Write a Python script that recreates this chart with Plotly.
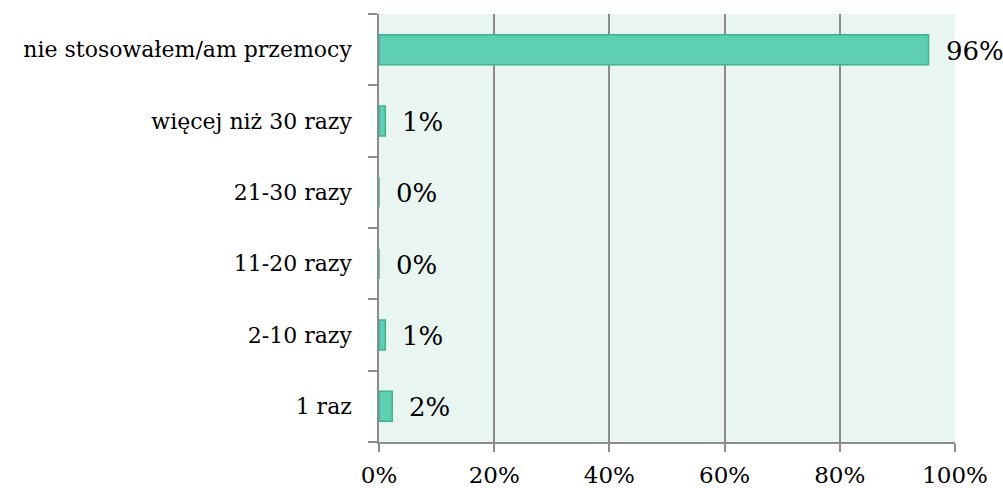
import plotly.graph_objects as go

categories = ["1 raz", "2-10 razy", "11-20 razy", "21-30 razy",
              "więcej niż 30 razy", "nie stosowałem/am przemocy"]
values = [2.3, 1.1, 0.0, 0.0, 1.1, 95.4]
value_labels = ["2%", "1%", "0%", "0%", "1%", "96%"]
x_ticks = [0, 20, 40, 60, 80, 100]
x_tick_labels = ["0%", "20%", "40%", "60%", "80%", "100%"]

FONT = "DejaVu Serif"
GRID = "#8c8c8c"

fig = go.Figure()
fig.add_trace(go.Bar(
    x=values, y=categories, orientation="h", width=0.42,
    marker=dict(color="#5ecfb1", line=dict(color="#3db38e", width=1.5)),
    hoverinfo="skip",
))

for v, c, t in zip(values, categories, value_labels):
    fig.add_annotation(x=v, y=c, text=t, showarrow=False, xanchor="left",
                       xshift=15, yshift=-1, font=dict(family=FONT, size=26, color="#000000"))

fig.update_layout(
    width=1003, height=488,
    margin=dict(l=379, r=48, t=14, b=46),
    paper_bgcolor="white", plot_bgcolor="#e8f5f0",
    showlegend=False,
    font=dict(family=FONT, size=22, color="#000000"),
)
fig.update_xaxes(
    range=[0, 100], tickvals=x_ticks, ticktext=x_tick_labels,
    showgrid=True, gridcolor=GRID, gridwidth=1.5,
    showline=True, linecolor=GRID, linewidth=1.5,
    ticks="outside", ticklen=8, tickcolor=GRID, tickwidth=1.5,
    tickfont=dict(family=FONT, size=23), zeroline=False,
    ticklabelstandoff=4, automargin=False,
)
fig.update_yaxes(
    categoryorder="array", categoryarray=categories,
    tickson="boundaries", showgrid=False,
    showline=True, linecolor=GRID, linewidth=1.5,
    ticks="outside", ticklen=9, tickcolor=GRID, tickwidth=1.5,
    tickfont=dict(family=FONT, size=22), ticklabelstandoff=21,
    automargin=False,
)

fig.write_html("out.html",
               config={"displayModeBar": False},
               post_script="document.body.style.margin='0';document.body.style.overflow='hidden';")
